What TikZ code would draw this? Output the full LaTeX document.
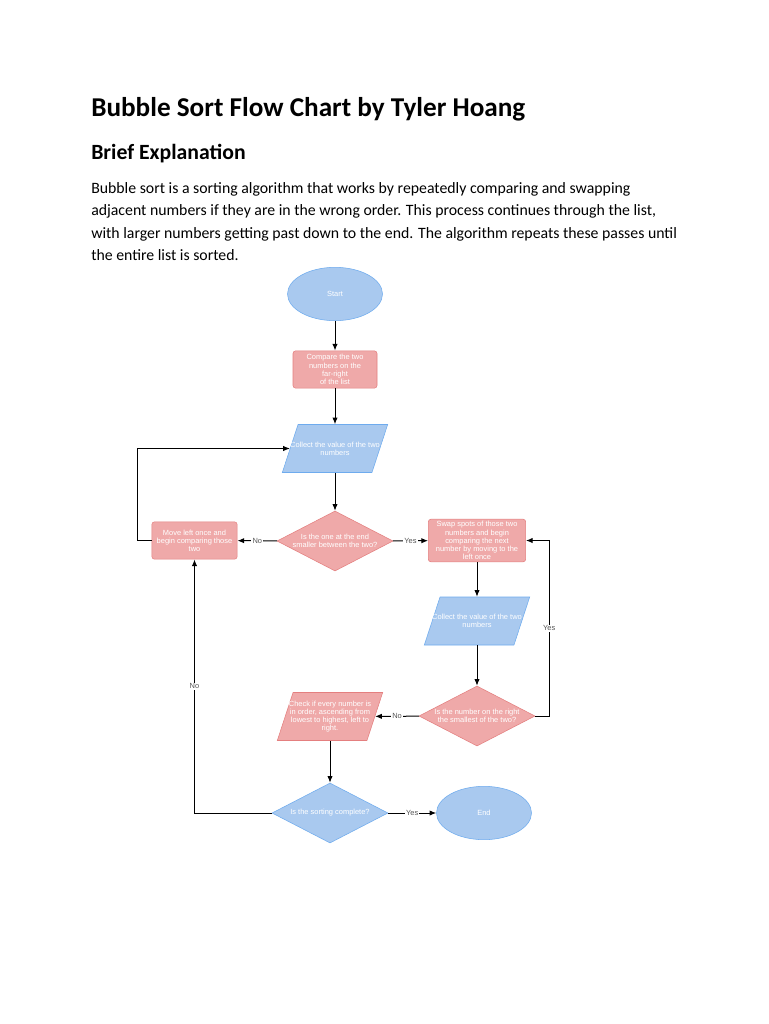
\documentclass[tikz,border=0pt]{standalone}
\usepackage{fontspec}
\setmainfont{Carlito}
\newfontfamily\chartfont{Liberation Sans}
\usetikzlibrary{shapes.geometric,arrows.meta}

\definecolor{fcpink}{HTML}{EFA9A9}
\definecolor{fcpinkline}{HTML}{E47F7F}
\definecolor{fcblue}{HTML}{A9C9EF}
\definecolor{fcblueline}{HTML}{6EABEE}
\definecolor{answergray}{HTML}{555555}

\tikzset{
  fctext/.style={text=white, align=center, font=\chartfont\fontsize{5.6}{6.1}\selectfont},
  fclabel/.style={label={[fctext]center:{#1}}},
  startstop/.style={ellipse, draw=fcblueline, fill=fcblue, fctext, inner sep=0pt, minimum width=71.25pt, minimum height=40pt},
  process/.style={rectangle, rounded corners=2pt, draw=fcpinkline, fill=fcpink, fctext, inner sep=0pt},
  io/.style={trapezium, trapezium left angle=78, trapezium right angle=102, trapezium stretches=true, inner sep=2pt, minimum width=79pt, minimum height=36pt},
  decision/.style={diamond, inner sep=2pt, minimum width=87pt, minimum height=45pt},
  arrow/.style={-{Latex[length=5pt,width=4pt]}, line width=0.75pt},
  answer/.style={fill=white, inner sep=0.8pt, text=answergray, font=\chartfont\fontsize{5.6}{6}\selectfont}
}

\begin{document}
\begin{tikzpicture}[x=0.75pt,y=-0.75pt]
  \fill[white] (0,0) rectangle (768,1024);
  \useasboundingbox (0,0) rectangle (768,1024);

  % heading and explanation
  \node[anchor=base west, inner sep=0pt, font=\bfseries\fontsize{20.4}{24}\selectfont] (title) at (91,117) {Bubble Sort Flow Chart by Tyler Hoang};
  \node[anchor=base west, inner sep=0pt, font=\bfseries\fontsize{16.3}{19}\selectfont] (brief) at (91,159.5) {Brief Explanation};
  \node[anchor=north west, inner sep=0pt, align=left, font=\fontsize{11.85}{16.6}\selectfont] (text) at (91,182.5) {Bubble sort is a sorting algorithm that works by repeatedly comparing and swapping\\adjacent numbers if they are in the wrong order. This process continues through the list,\\with larger numbers getting past down to the end. The algorithm repeats these passes until\\the entire list is sorted.};

  % flow chart
  \node[startstop] (start) at (335,294) {Start};
  \node[process, minimum width=63pt, minimum height=28pt] (compare) at (335,369.5) {Compare the two\\numbers on the\\far-right\\of the list};
  \node[io, draw=fcblueline, fill=fcblue, fclabel={Collect the value of the two\\numbers}] (collect1) at (335,448.5) {};
  \node[decision, draw=fcpinkline, fill=fcpink, fclabel={Is the one at the end\\smaller between the two?}] (dec1) at (335,541) {};
  \node[process, minimum width=64pt, minimum height=28pt] (move) at (194.5,540.5) {Move left once and\\begin comparing those\\two};
  \node[process, minimum width=73pt, minimum height=32pt] (swap) at (477,540.5) {Swap spots of those two\\numbers and begin\\comparing the next\\number by moving to the\\left once};
  \node[io, draw=fcblueline, fill=fcblue, fclabel={Collect the value of the two\\numbers}] (collect2) at (477,621) {};
  \node[decision, draw=fcpinkline, fill=fcpink, fclabel={Is the number on the right\\the smallest of the two?}] (dec2) at (477,716) {};
  \node[io, draw=fcpinkline, fill=fcpink, fclabel={Check if every number is\\in order, ascending from\\lowest to highest, left to\\right.}] (check) at (330,716.5) {};
  \node[decision, draw=fcblueline, fill=fcblue, fclabel={Is the sorting complete?}] (dec3) at (330,813) {};
  \node[startstop] (end) at (484,813) {End};

  \draw[arrow] (start) -- (compare);
  \draw[arrow] (compare) -- (collect1);
  \draw[arrow] (collect1) -- (dec1);
  \draw[arrow] (dec1) -- node[answer] {No} (move);
  \draw[arrow] (dec1) -- node[answer] {Yes} (swap);
  \draw[arrow] (move.west) -- ++(-14,0) |- (collect1.west);
  \draw[arrow] (swap) -- (collect2);
  \draw[arrow] (collect2) -- (dec2);
  \draw[arrow] (dec2.east) -- ++(14,0) |- node[answer, pos=0.25] {Yes} (swap.east);
  \draw[arrow] (dec2) -- node[answer] {No} (check);
  \draw[arrow] (check) -- (dec3);
  \draw[arrow] (dec3) -- node[answer] {Yes} (end);
  \draw[arrow] (dec3.west) -| node[answer, pos=0.75] {No} (move.south);
\end{tikzpicture}
\end{document}
